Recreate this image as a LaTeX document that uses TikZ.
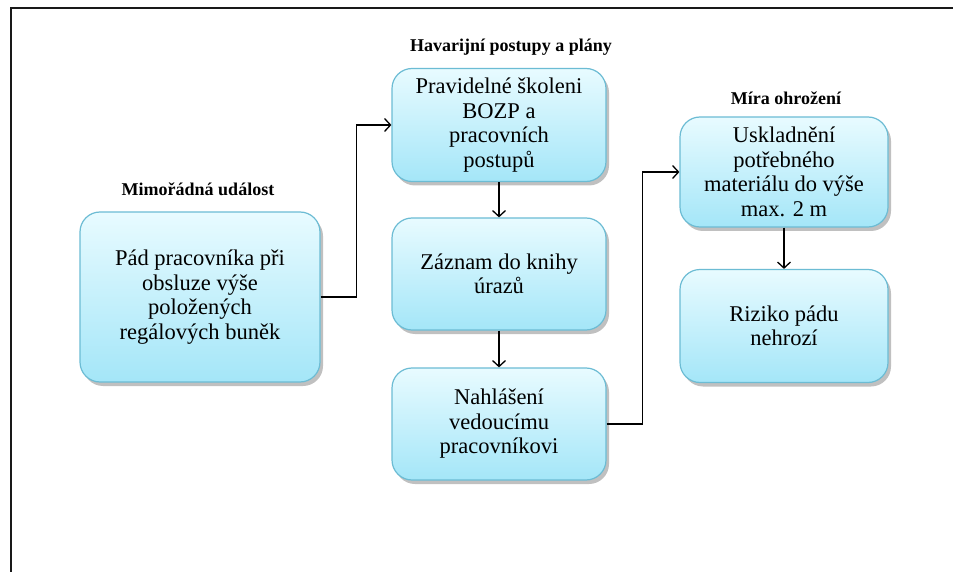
\documentclass[tikz,border=0pt]{standalone}
\usepackage{fontspec}
\setmainfont{Liberation Serif}
\newfontfamily\bodyfont{Liberation Serif}
\usetikzlibrary{arrows.meta,shadows}
\definecolor{boxtop}{HTML}{E8FBFF}
\definecolor{boxbot}{HTML}{A4E6F8}
\definecolor{boxline}{HTML}{6CBCD4}
\tikzset{
  flowbox/.style={draw=boxline, line width=1.2pt, rounded corners=20pt,
    top color=boxtop, bottom color=boxbot, align=center, inner sep=4pt,
    font=\bodyfont\fontsize{22.5}{24.5}\selectfont,
    drop shadow={shadow xshift=3pt, shadow yshift=-4pt, opacity=0.35, fill=black!70}},
  grouplabel/.style={font=\bodyfont\bfseries\fontsize{18}{20}\selectfont, inner sep=0pt},
  conn/.style={line width=1.3pt, -{Straight Barb[length=6pt,width=13pt,line width=1.3pt]}},
  framel/.style={line width=2.5pt, black!90}
}
\begin{document}
\begin{tikzpicture}[x=1pt,y=-1pt]
\useasboundingbox (0,0) rectangle (953,572);
\fill[white] (0,0) rectangle (953,572);
\coordinate (ftl) at (11,8);
\coordinate (ftr) at (953,8);
\coordinate (fbl) at (11,572);
\draw[framel] (fbl) -- (ftl) -- (ftr);

\node[flowbox, minimum width=240pt, minimum height=170pt] (A) at (200,297)
  {Pád pracovníka při\\obsluze výše\\položených\\regálových buněk};
\node[flowbox, minimum width=214pt, minimum height=113pt] (B) at (499,125)
  {Pravidelné školeni\\BOZP a\\pracovních\\postupů};
\node[flowbox, minimum width=214pt, minimum height=112pt] (C) at (499,274)
  {Záznam do knihy\\úrazů};
\node[flowbox, minimum width=214pt, minimum height=112pt] (D) at (499,424)
  {Nahlášení\\vedoucímu\\pracovníkovi};
\node[flowbox, minimum width=208pt, minimum height=110pt] (E) at (784,172)
  {Uskladnění\\potřebného\\materiálu do výše\\max. 2 m};
\node[flowbox, minimum width=208pt, minimum height=113pt] (F) at (784,326)
  {Riziko pádu\\nehrozí};

\node[grouplabel] (LA) at (198,189) {Mimořádná událost};
\node[grouplabel] (LB) at (511,47) {Havarijní postupy a plány};
\node[grouplabel] (LE) at (786,98) {Míra ohrožení};

\draw[conn] (A.east) -- ++(36,0) |- (B.west);
\draw[conn] (B.south) -- (C.north);
\draw[conn] (C.south) -- (D.north);
\draw[conn] (D.east) -- ++(36,0) |- (E.west);
\draw[conn] (E.south) -- (F.north);
\end{tikzpicture}
\end{document}
